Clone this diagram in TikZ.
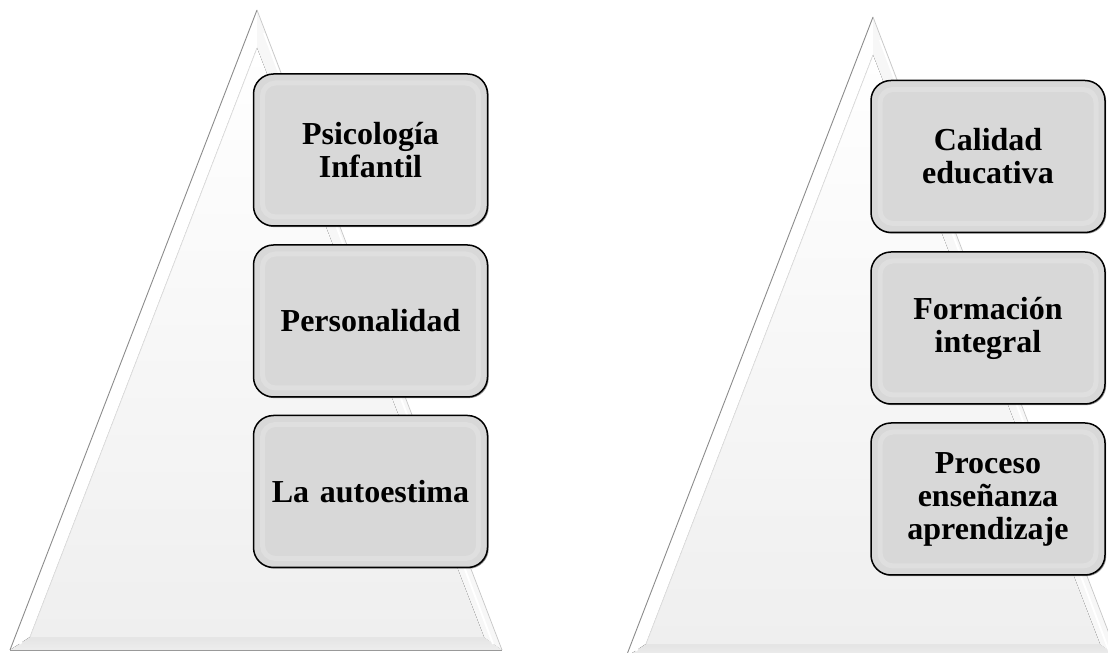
\documentclass[tikz,border=0pt]{standalone}
\usepackage{fontspec}
\setmainfont{Liberation Serif}
\usetikzlibrary{shadows}
\definecolor{boxfill}{HTML}{D8D8D8}
\definecolor{boxrim}{HTML}{E2E2E2}
\definecolor{facebot}{HTML}{E4E4E4}
\definecolor{inbot}{HTML}{EFEFEF}
\tikzset{
  rimline/.style={draw=boxrim, line width=5pt, rounded corners=13pt, opacity=.7},
  itembox/.style={draw=black, line width=1.5pt, fill=boxfill, rounded corners=20pt,
    minimum width=234pt, minimum height=152pt, text width=220pt, align=center,
    font=\bfseries\fontsize{32}{33}\selectfont,
    drop shadow={shadow xshift=1.2pt, shadow yshift=-1.2pt, fill=black!60, opacity=.7},
    path picture={\draw[rimline] ([shift={(9pt,-9pt)}]path picture bounding box.north west)
       rectangle ([shift={(-9pt,9pt)}]path picture bounding box.south east);}},
  outeredgeL/.style={draw=black!45, line width=0.9pt},
  outeredgeB/.style={draw=black!40, line width=0.8pt},
  outeredgeR/.style={draw=black!22, line width=0.7pt},
}
\newcommand{\pyramidshape}{%
  \fill[white] (257,643) -- (10,3) -- (30,16) -- (257,605) -- cycle;
  \fill[top color=facebot, bottom color=black!7] (10,3) -- (502,3) -- (484,16) -- (30,16) -- cycle;
  \fill[white!97!black] (257,643) -- (257,605) -- (484,16) -- (502,3) -- cycle;
  \fill[top color=white, bottom color=inbot] (257,605) -- (30,16) -- (484,16) -- cycle;
  \draw[black!12, line width=0.8pt] (257,605) -- (30,16);
  \draw[black!10, line width=0.6pt] (30,16) -- (484,16);
  \draw[white, line width=2.5pt] (250,620) -- (20,9);
  \draw[white, line width=2pt] (264,620) -- (493,9);
  \draw[outeredgeL] (257,643) -- (10,3);
  \draw[outeredgeB] (10,3) -- (502,3);
  \draw[outeredgeR] (257,643) -- (502,3);
}
\begin{document}
\begin{tikzpicture}[x=1pt,y=1pt]
\useasboundingbox (0,0) rectangle (1108,653);
\fill[white] (0,0) rectangle (1108,653);
\begin{scope}
  \clip (0,0) rectangle (1108,653);
  \pyramidshape
  \begin{scope}[shift={(616,-7)}]
    \pyramidshape
  \end{scope}
\end{scope}
% left boxes
\node[itembox] (l1) at (370.5,503) {Psicología\\Infantil};
\node[itembox] (l2) at (370.5,332) {Personalidad};
\node[itembox] (l3) at (370.5,161.5) {La autoestima};
% right boxes
\node[itembox] (r1) at (988,496.5) {Calidad\\educativa};
\node[itembox] (r2) at (988,325) {Formación\\integral};
\node[itembox] (r3) at (988,154) {Proceso\\enseñanza\\aprendizaje};
\end{tikzpicture}
\end{document}
